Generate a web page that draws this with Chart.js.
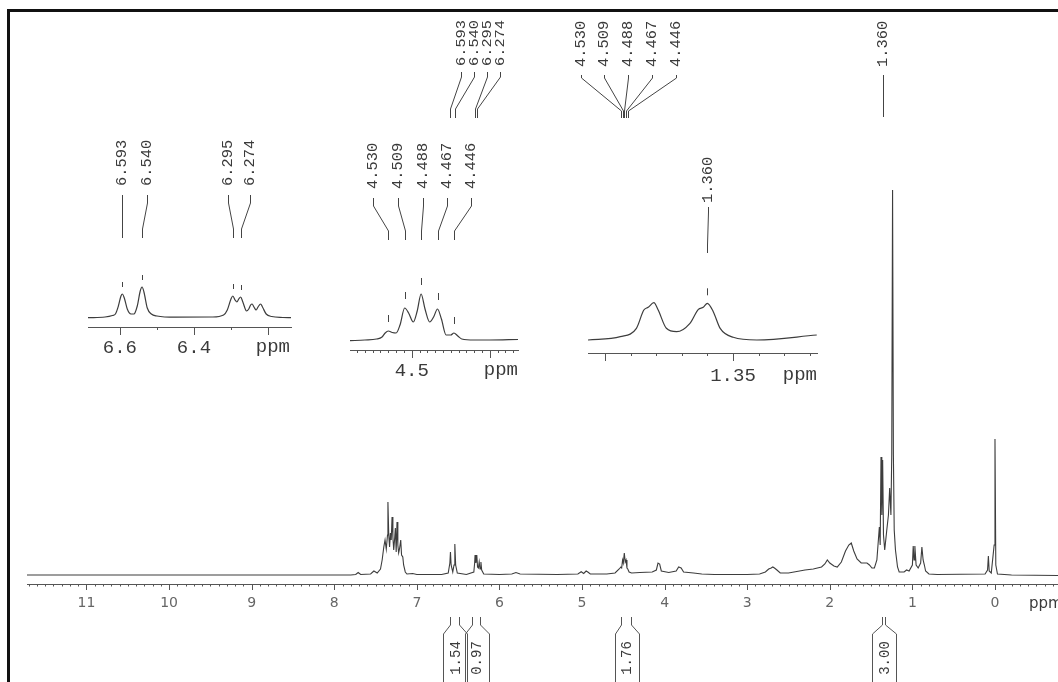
<!DOCTYPE html>
<html><head><meta charset="utf-8">
<script src="https://cdn.jsdelivr.net/npm/chart.js@4.4.1/dist/chart.umd.min.js"></script>
<style>
html,body{margin:0;padding:0;background:#fff;width:1058px;height:682px;overflow:hidden;}
#frame{position:absolute;left:7px;top:9px;width:1100px;height:700px;border-top:3px solid #111;border-left:3px solid #111;}
canvas{position:absolute;}
</style></head><body>
<div id="frame"></div>
<canvas id="cMain" width="1058" height="682" style="left:0;top:0"></canvas>
<canvas id="cIn1" width="260" height="240" style="left:60px;top:130px"></canvas>
<canvas id="cIn2" width="210" height="265" style="left:330px;top:120px"></canvas>
<canvas id="cIn3" width="270" height="250" style="left:570px;top:140px"></canvas>
<script>
// ---------- DATA ----------
const mainPpm = [
 11.72, 9.0, 7.8, 7.74, 7.71, 7.68, 7.56, 7.52, 7.48, 7.44,
 7.42, 7.40, 7.385, 7.37, 7.355, 7.35, 7.34, 7.33, 7.32, 7.31,
 7.30, 7.29, 7.28, 7.27, 7.26, 7.25, 7.24, 7.23, 7.22, 7.21,
 7.195, 7.185, 7.17, 7.16, 7.14, 7.12, 7.05, 7.0, 6.70, 6.62,
 6.60, 6.593, 6.585, 6.565, 6.55, 6.54, 6.53, 6.51, 6.40, 6.31,
 6.30, 6.295, 6.285, 6.274, 6.265, 6.255, 6.245, 6.235, 6.224, 6.215,
 6.19, 6.0, 5.85, 5.80, 5.75, 5.3, 5.05, 5.01, 4.98, 4.95,
 4.93, 4.90, 4.70, 4.60, 4.55, 4.53, 4.52, 4.509, 4.50, 4.488,
 4.477, 4.467, 4.456, 4.446, 4.43, 4.40, 4.30, 4.15, 4.10, 4.08,
 4.06, 4.04, 3.95, 3.86, 3.83, 3.80, 3.77, 3.65, 3.55, 3.40,
 3.00, 2.85, 2.78, 2.74, 2.71, 2.69, 2.67, 2.64, 2.60, 2.50,
 2.40, 2.30, 2.20, 2.10, 2.06, 2.03, 2.00, 1.95, 1.91, 1.86,
 1.81, 1.77, 1.74, 1.71, 1.67, 1.62, 1.58, 1.55, 1.52, 1.49,
 1.46, 1.43, 1.40, 1.39, 1.38, 1.37, 1.36, 1.35, 1.335, 1.31,
 1.29, 1.275, 1.26, 1.25, 1.24, 1.23, 1.22, 1.205, 1.18, 1.16,
 1.10, 1.07, 1.04, 1.00, 0.99, 0.98, 0.97, 0.955, 0.93, 0.90,
 0.885, 0.87, 0.855, 0.84, 0.80, 0.70, 0.12, 0.09, 0.08, 0.07,
 0.045, 0.01, 0.00, -0.01, -0.03, -0.2, -0.763
];
const mainIntensity = [
 0, 0, 0, 0.5, 2.5, 0.5, 1, 4, 2, 6,
 15, 28, 35, 26, 40, 73, 40, 28, 42, 35,
 58, 38, 25, 35, 47, 23, 53, 30, 22, 26,
 35, 20, 18, 10, 3, 1, 1.5, 0.5, 0.5, 2,
 12, 23, 10, 3, 10, 31, 10, 2, 0.5, 3,
 12, 20, 12, 20, 8, 7, 13, 6, 13, 5,
 1, 0.5, 1, 2.5, 1, 0.5, 1, 3.3, 1.5, 4,
 3, 1, 1, 2, 6, 8, 7, 15, 12, 22,
 13, 15, 7, 6, 3, 2, 2.5, 3, 5, 12,
 11, 4, 2.5, 4, 8, 7, 3, 2, 1, 0.5,
 0.5, 1, 3, 6, 7, 8, 7, 5, 2, 2,
 3.5, 5, 6, 8, 11, 15, 12, 9, 8, 13,
 24, 30, 32, 24, 16, 12, 12, 12, 10, 7,
 7, 15, 48, 30, 118, 60, 115, 40, 25, 45,
 60, 87, 60, 120, 385, 120, 45, 25, 8, 3,
 3, 5, 4, 10, 29, 15, 29, 10, 7, 12,
 28, 15, 10, 4, 1, 0.5, 1, 5, 19, 4,
 2, 30, 136, 10, 1, 0, -0.5
];

const inset1Ppm = [
 6.686, 6.64, 6.62, 6.612, 6.604, 6.597, 6.593, 6.588, 6.58, 6.57,
 6.562, 6.553, 6.545, 6.540, 6.535, 6.526, 6.515, 6.50, 6.45, 6.35,
 6.32, 6.31, 6.30, 6.295, 6.289, 6.284, 6.279, 6.274, 6.268, 6.258,
 6.252, 6.247, 6.243, 6.238, 6.232, 6.227, 6.22, 6.215, 6.205, 6.19,
 6.16, 6.138
];
const inset1Intensity = [
 0.3, 1, 2.5, 4, 12, 22, 24, 20, 9, 4,
 4, 12, 27, 31, 26, 10, 4, 2, 0.8, 1,
 3, 8, 19, 22, 18, 16, 19, 21, 16, 7,
 9, 13, 14, 11, 8, 11, 14, 11, 4, 1.5,
 0.5, 0.3
];

const inset2Ppm = [
 4.579, 4.56, 4.545, 4.538, 4.534, 4.530, 4.525, 4.520, 4.515, 4.509,
 4.504, 4.498, 4.493, 4.488, 4.483, 4.477, 4.472, 4.467, 4.462, 4.456,
 4.450, 4.446, 4.441, 4.436, 4.42, 4.40, 4.364
];
const inset2Intensity = [
 0.3, 1, 2, 4, 8, 10, 8.5, 8, 16, 33,
 28, 19, 30, 47, 32, 19, 24, 32, 22, 6,
 6, 8, 5, 2, 1, 1, 1.5
];

const inset3Ppm = [
 1.4066, 1.394, 1.3877, 1.3848, 1.3831, 1.3809, 1.3792, 1.376, 1.372, 1.3668,
 1.3635, 1.3616, 1.360, 1.3577, 1.355, 1.3499, 1.3407, 1.3173
];
const inset3Intensity = [
 0, 3.3, 11.7, 30, 32.7, 37.3, 30, 11.7, 8.3, 16.7,
 30.7, 32.7, 36.7, 28.3, 11.7, 2.7, 0, 5
];

const peakGroupA = [6.593, 6.540, 6.295, 6.274];
const peakGroupB = [4.530, 4.509, 4.488, 4.467, 4.446];
const peakGroupC = [1.360];
const inset1Peaks = [6.593, 6.540, 6.295, 6.274];
const inset2Peaks = [4.530, 4.509, 4.488, 4.467, 4.446];
const inset3Peaks = [1.360];

const integralLabels = ['1.54', '0.97', '1.76', '3.00'];
const integralStart = [6.60, 6.33, 4.53, 1.37];
const integralEnd = [6.49, 6.24, 4.41, 1.33];

const inset1TickLabels = [6.6, 6.4];
const inset2TickLabels = [4.5];
const inset3TickLabels = [1.35];

// ---------- HELPERS ----------
const LINE = '#3d3d3d', AXIS = '#555', TXT = '#3a3a3a';
const MONO = '"Liberation Mono", "DejaVu Sans Mono", monospace';

function pts(px, py){ return px.map((x,i)=>({x:x, y:py[i]})); }
function near(v, arr){ return arr.some(a => Math.abs(v-a) < 1e-6); }

function drawTickMarks(chart, isMajor, majLen, minLen){
  const xs = chart.scales.x, ctx = chart.ctx, y0 = chart.chartArea.bottom;
  ctx.save(); ctx.strokeStyle = AXIS; ctx.lineWidth = 1;
  xs.ticks.forEach(t => {
    const px = Math.round(xs.getPixelForValue(t.value)) + 0.5;
    ctx.beginPath(); ctx.moveTo(px, y0); ctx.lineTo(px, y0 + (isMajor(t.value) ? majLen : minLen)); ctx.stroke();
  });
  ctx.restore();
}

function drawPeakLabels(chart, peaks, g, off){
  const xs = chart.scales.x, ctx = chart.ctx;
  ctx.save(); ctx.strokeStyle = '#444'; ctx.lineWidth = 1; ctx.fillStyle = TXT; ctx.font = g.font;
  peaks.forEach((p,i) => {
    const lx = Math.round(g.labelX[i] - off.x) + 0.5;
    const px = Math.round(xs.getPixelForValue(p)) + 0.5;
    ctx.beginPath();
    ctx.moveTo(lx, g.lineTop - off.y);
    ctx.lineTo(lx, g.bend1 - off.y);
    ctx.lineTo(px, g.bend2 - off.y);
    ctx.lineTo(px, g.lineBottom - off.y);
    ctx.stroke();
    ctx.save();
    ctx.translate(lx, g.textBottom - off.y);
    ctx.rotate(-Math.PI/2);
    ctx.scale(g.sx || 1, 1);
    ctx.textAlign = 'left'; ctx.textBaseline = 'middle';
    ctx.fillText(p.toFixed(3), 0, 0);
    ctx.restore();
  });
  ctx.restore();
}

function drawMarkers(chart, peaks, px, py, gap, len){
  const xs = chart.scales.x, ys = chart.scales.y, ctx = chart.ctx;
  ctx.save(); ctx.strokeStyle = '#444'; ctx.lineWidth = 1;
  peaks.forEach(p => {
    let bi = 0;
    px.forEach((v,i) => { if (Math.abs(v-p) < Math.abs(px[bi]-p)) bi = i; });
    const x = Math.round(xs.getPixelForValue(p)) + 0.5;
    const top = ys.getPixelForValue(py[bi]);
    ctx.beginPath(); ctx.moveTo(x, top - gap - len); ctx.lineTo(x, top - gap); ctx.stroke();
  });
  ctx.restore();
}

function drawPpm(chart, x, y, align, font){
  const ctx = chart.ctx;
  ctx.save(); ctx.fillStyle = TXT; ctx.font = font; ctx.textAlign = align; ctx.textBaseline = 'middle';
  ctx.fillText('ppm', x, y); ctx.restore();
}

function makeOptions(o){
  return {
    responsive: false, animation: false, devicePixelRatio: 1,
    layout: {padding: {left: o.padL, right: o.padR, top: o.padT, bottom: 0}},
    plugins: {legend: {display: false}, tooltip: {enabled: false}},
    scales: {
      x: {
        type: 'linear', reverse: true, min: o.xmin, max: o.xmax,
        afterFit: s => { s.height = o.axisH; s.paddingLeft = 0; s.paddingRight = 0; },
        border: {display: true, color: AXIS, width: 1},
        grid: {display: true, drawOnChartArea: false, drawTicks: false},
        ticks: {stepSize: o.step, autoSkip: false, includeBounds: false, maxRotation: 0, minRotation: 0,
                padding: o.tickPad, color: o.tickColor, font: o.font, callback: o.cb}
      },
      y: {display: false, min: o.ymin, max: o.ymax}
    }
  };
}

function dataset(px, py, smooth){
  return {data: pts(px, py), borderColor: LINE, borderWidth: smooth ? 1.2 : 1.1, pointRadius: 0,
          fill: false, tension: 0, cubicInterpolationMode: smooth ? 'monotone' : 'default'};
}

const LBL = '14px ' + MONO;
const LBL_A = '13px ' + MONO;

// ---------- MAIN SPECTRUM ----------
new Chart(document.getElementById('cMain'), {
  type: 'line',
  data: {datasets: [dataset(mainPpm, mainIntensity, false)]},
  options: makeOptions({
    padL: 27, padR: 0, padT: 180, axisH: 98,
    xmin: -0.763, xmax: 11.72, step: 0.1, tickPad: 11, ymin: -9, ymax: 395,
    tickColor: '#666', font: {family: '"DejaVu Sans", sans-serif', size: 14},
    cb: v => Math.abs(v - Math.round(v)) < 1e-6 ? String(Math.round(v)) : ''
  }),
  plugins: [{
    id: 'mainDeco',
    afterDraw(chart){
      const xs = chart.scales.x, ctx = chart.ctx, off = {x: 0, y: 0};
      drawTickMarks(chart, v => Math.abs(v - Math.round(v)) < 1e-6, 6, 2.5);
      drawPpm(chart, xs.getPixelForValue(0) + 34, chart.chartArea.bottom + 20, 'left', '15px "DejaVu Sans", sans-serif');
      drawPeakLabels(chart, peakGroupA, {labelX: [461, 474, 487, 500], textBottom: 66, lineTop: 72, bend1: 77, bend2: 109, lineBottom: 118, font: LBL_A, sx: 1.18}, off);
      drawPeakLabels(chart, peakGroupB, {labelX: [581, 604, 628, 652, 676], textBottom: 67, lineTop: 75, bend1: 78, bend2: 111, lineBottom: 118, font: LBL, sx: 1.1}, off);
      drawPeakLabels(chart, peakGroupC, {labelX: [883], textBottom: 67, lineTop: 75, bend1: 80, bend2: 110, lineBottom: 117, font: LBL, sx: 1.1}, off);
      // integrals
      ctx.save(); ctx.strokeStyle = '#555'; ctx.lineWidth = 1; ctx.fillStyle = TXT; ctx.font = '14px ' + MONO;
      integralLabels.forEach((lab, i) => {
        const x1 = Math.round(xs.getPixelForValue(integralStart[i])) + 0.5;
        const x2 = Math.round(xs.getPixelForValue(integralEnd[i])) + 0.5;
        const cx = (x1 + x2) / 2, hw = 12;
        ctx.beginPath();
        ctx.moveTo(x1, 617); ctx.lineTo(x1, 625); ctx.lineTo(Math.round(cx - hw) + 0.5, 634); ctx.lineTo(Math.round(cx - hw) + 0.5, 682);
        ctx.moveTo(x2, 617); ctx.lineTo(x2, 625); ctx.lineTo(Math.round(cx + hw) + 0.5, 634); ctx.lineTo(Math.round(cx + hw) + 0.5, 682);
        ctx.stroke();
        ctx.save(); ctx.translate(cx + 1, 658); ctx.rotate(-Math.PI/2);
        ctx.textAlign = 'center'; ctx.textBaseline = 'middle'; ctx.fillText(lab, 0, 0); ctx.restore();
      });
      ctx.restore();
    }
  }]
});

// ---------- INSET 1 (6.6 - 6.2 ppm) ----------
new Chart(document.getElementById('cIn1'), {
  type: 'line',
  data: {datasets: [dataset(inset1Ppm, inset1Intensity, true)]},
  options: makeOptions({
    padL: 28, padR: 29, padT: 120, axisH: 43,
    xmin: 6.138, xmax: 6.686, step: 0.1, tickPad: 10, ymin: -9, ymax: 68,
    tickColor: TXT, font: {family: MONO, size: 19},
    cb: v => near(v, inset1TickLabels) ? v.toFixed(1) : ''
  }),
  plugins: [{
    id: 'in1Deco',
    afterDraw(chart){
      const off = {x: 60, y: 130};
      drawTickMarks(chart, v => Math.abs(v*5 - Math.round(v*5)) < 1e-6, 8, 3);
      drawPpm(chart, chart.chartArea.right - 1, chart.chartArea.bottom + 20, 'right', '19px ' + MONO);
      drawPeakLabels(chart, inset1Peaks, {labelX: [122, 147, 228, 250], textBottom: 186, lineTop: 195, bend1: 203, bend2: 229, lineBottom: 238, font: LBL, sx: 1.1}, off);
      drawMarkers(chart, inset1Peaks, inset1Ppm, inset1Intensity, 7, 5);
    }
  }]
});

// ---------- INSET 2 (4.5 ppm multiplet) ----------
new Chart(document.getElementById('cIn2'), {
  type: 'line',
  data: {datasets: [dataset(inset2Ppm, inset2Intensity, true)]},
  options: makeOptions({
    padL: 20, padR: 22, padT: 150, axisH: 35,
    xmin: 4.364, xmax: 4.579, step: 0.01, tickPad: 10, ymin: -9, ymax: 71,
    tickColor: TXT, font: {family: MONO, size: 19},
    cb: v => near(v, inset2TickLabels) ? v.toFixed(1) : ''
  }),
  plugins: [{
    id: 'in2Deco',
    afterDraw(chart){
      const off = {x: 330, y: 120};
      drawTickMarks(chart, v => Math.abs(v*10 - Math.round(v*10)) < 1e-6, 8, 3);
      drawPpm(chart, chart.chartArea.right, chart.chartArea.bottom + 20, 'right', '19px ' + MONO);
      drawPeakLabels(chart, inset2Peaks, {labelX: [373, 398, 423, 447, 471], textBottom: 189, lineTop: 198, bend1: 206, bend2: 231, lineBottom: 240, font: LBL, sx: 1.1}, off);
      drawMarkers(chart, inset2Peaks, inset2Ppm, inset2Intensity, 9, 7);
    }
  }]
});

// ---------- INSET 3 (1.36 ppm doublet) ----------
new Chart(document.getElementById('cIn3'), {
  type: 'line',
  data: {datasets: [dataset(inset3Ppm, inset3Intensity, true)]},
  options: makeOptions({
    padL: 18, padR: 23, padT: 130, axisH: 37,
    xmin: 1.3172, xmax: 1.4066, step: 0.01, tickPad: 12, ymin: -13, ymax: 70,
    tickColor: TXT, font: {family: MONO, size: 19},
    cb: v => near(v, inset3TickLabels) ? v.toFixed(2) : ''
  }),
  plugins: [{
    id: 'in3Deco',
    afterDraw(chart){
      const off = {x: 570, y: 140};
      drawTickMarks(chart, v => Math.abs(v*20 - Math.round(v*20)) < 1e-6, 8, 3);
      drawPpm(chart, chart.chartArea.right, chart.chartArea.bottom + 22, 'right', '19px ' + MONO);
      drawPeakLabels(chart, inset3Peaks, {labelX: [708], textBottom: 203, lineTop: 207, bend1: 212, bend2: 245, lineBottom: 253, font: LBL, sx: 1.1}, off);
      drawMarkers(chart, inset3Peaks, inset3Ppm, inset3Intensity, 8, 7);
    }
  }]
});
</script>
</body></html>
